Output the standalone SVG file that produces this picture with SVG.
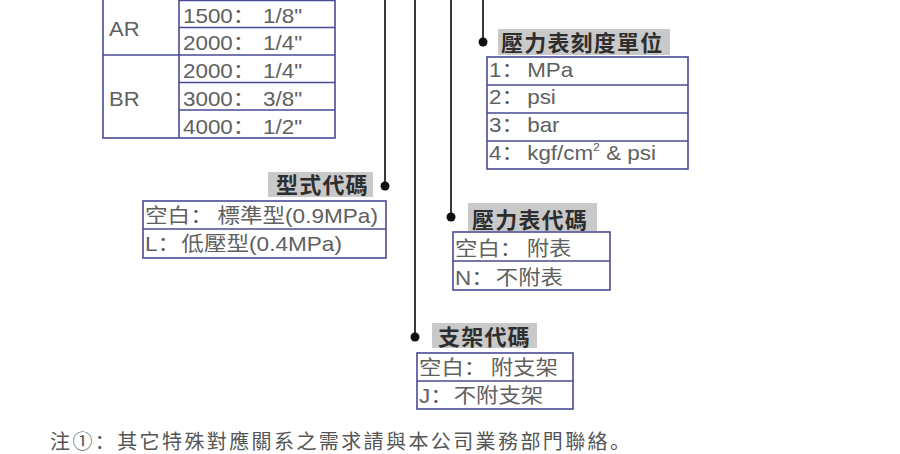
<svg xmlns="http://www.w3.org/2000/svg" width="900" height="454" viewBox="0 0 900 454">
<style>
.bg{fill:#ffffff}
.tb{fill:none;stroke:#4a4a96;stroke-width:1.6}
.ln{stroke:#4a4a96;stroke-width:1.6}
.cell{font-family:"Liberation Sans","Noto Sans CJK SC",sans-serif;font-size:20px;fill:#606060}
.lbl{fill:#c9c9c9}
.lt{font-family:"Noto Sans CJK TC",sans-serif;font-size:22px;font-weight:700;fill:#2e2e2e;letter-spacing:1.2px}
.con{stroke:#3a3a3a;stroke-width:2;fill:none}
.dot{fill:#111}
.note{font-family:"Noto Sans CJK SC",sans-serif;font-size:20px;fill:#555;letter-spacing:2.4px}
</style>
<rect class="bg" x="0" y="0" width="900" height="454"/>

<g id="connectors">
<line class="con" x1="385" y1="0" x2="385" y2="186"/>
<circle class="dot" cx="385" cy="186" r="4.5"/>
<line class="con" x1="415" y1="0" x2="415" y2="337"/>
<circle class="dot" cx="415" cy="337" r="4.5"/>
<line class="con" x1="451" y1="0" x2="451" y2="217"/>
<circle class="dot" cx="451" cy="217" r="4.5"/>
<line class="con" x1="483" y1="0" x2="483" y2="42"/>
<circle class="dot" cx="483" cy="42" r="4.5"/>
</g>

<g id="size-table">
<rect class="tb" x="103" y="-20" width="232" height="158"/>
<line class="ln" x1="179" y1="-20" x2="179" y2="138"/>
<line class="ln" x1="179" y1="0.5" x2="335" y2="0.5"/>
<line class="ln" x1="179" y1="27.5" x2="335" y2="27.5"/>
<line class="ln" x1="103" y1="55" x2="335" y2="55"/>
<line class="ln" x1="179" y1="82.5" x2="335" y2="82.5"/>
<line class="ln" x1="179" y1="110" x2="335" y2="110"/>
<text class="cell" transform="translate(109,36) scale(1.1,1)">AR</text>
<text class="cell" transform="translate(109,106) scale(1.1,1)">BR</text>
<text class="cell" transform="translate(183,23) scale(1.12,1)">1500：<tspan dx="7">1/8"</tspan></text>
<text class="cell" transform="translate(183,50) scale(1.12,1)">2000：<tspan dx="7">1/4"</tspan></text>
<text class="cell" transform="translate(183,78) scale(1.12,1)">2000：<tspan dx="7">1/4"</tspan></text>
<text class="cell" transform="translate(183,106) scale(1.12,1)">3000：<tspan dx="7">3/8"</tspan></text>
<text class="cell" transform="translate(183,134) scale(1.12,1)">4000：<tspan dx="7">1/2"</tspan></text>
</g>

<g id="gauge-unit">
<rect class="lbl" x="498" y="29" width="172" height="26"/>
<text class="lt" x="501" y="51">壓力表刻度單位</text>
<rect class="tb" x="487" y="57" width="201" height="112"/>
<line class="ln" x1="487" y1="85" x2="688" y2="85"/>
<line class="ln" x1="487" y1="113" x2="688" y2="113"/>
<line class="ln" x1="487" y1="141" x2="688" y2="141"/>
<text class="cell" transform="translate(489,77) scale(1.12,1)">1：<tspan dx="3">MPa</tspan></text>
<text class="cell" transform="translate(489,104) scale(1.12,1)">2：<tspan dx="3">psi</tspan></text>
<text class="cell" transform="translate(489,132) scale(1.12,1)">3：<tspan dx="3">bar</tspan></text>
<text class="cell" transform="translate(489,160) scale(1.12,1)">4：<tspan dx="3">kgf/cm</tspan><tspan font-size="11" dy="-9">2</tspan><tspan dy="9"> &amp; psi</tspan></text>
</g>

<g id="type-code">
<rect class="lbl" x="268" y="172" width="105" height="25"/>
<text class="lt" x="276" y="193">型式代碼</text>
<rect class="tb" x="143" y="201" width="243" height="57"/>
<line class="ln" x1="143" y1="229" x2="386" y2="229"/>
<text class="cell" transform="translate(145,223) scale(1.13,1)">空白：<tspan dx="4">標準型(0.9MPa)</tspan></text>
<text class="cell" transform="translate(145,251) scale(1.13,1)">L：<tspan dx="1">低壓型(0.4MPa)</tspan></text>
</g>

<g id="gauge-code">
<rect class="lbl" x="468" y="203" width="129" height="28"/>
<text class="lt" x="472" y="228">壓力表代碼</text>
<rect class="tb" x="453" y="232" width="157" height="58"/>
<line class="ln" x1="453" y1="261" x2="610" y2="261"/>
<text class="cell" transform="translate(455,256) scale(1.12,1)">空白：<tspan dx="4">附表</tspan></text>
<text class="cell" transform="translate(455,285) scale(1.12,1)">N：<tspan dx="2">不附表</tspan></text>
</g>

<g id="bracket-code">
<rect class="lbl" x="432" y="323" width="105" height="25"/>
<text class="lt" x="438" y="345">支架代碼</text>
<rect class="tb" x="417" y="353" width="156" height="56"/>
<line class="ln" x1="417" y1="381" x2="573" y2="381"/>
<text class="cell" transform="translate(419,375) scale(1.12,1)">空白：<tspan dx="4">附支架</tspan></text>
<text class="cell" transform="translate(419,403) scale(1.12,1)">J：<tspan dx="1">不附支架</tspan></text>
</g>

<text class="note" x="50" y="449">注①：其它特殊對應關系之需求請與本公司業務部門聯絡。</text>
</svg>
